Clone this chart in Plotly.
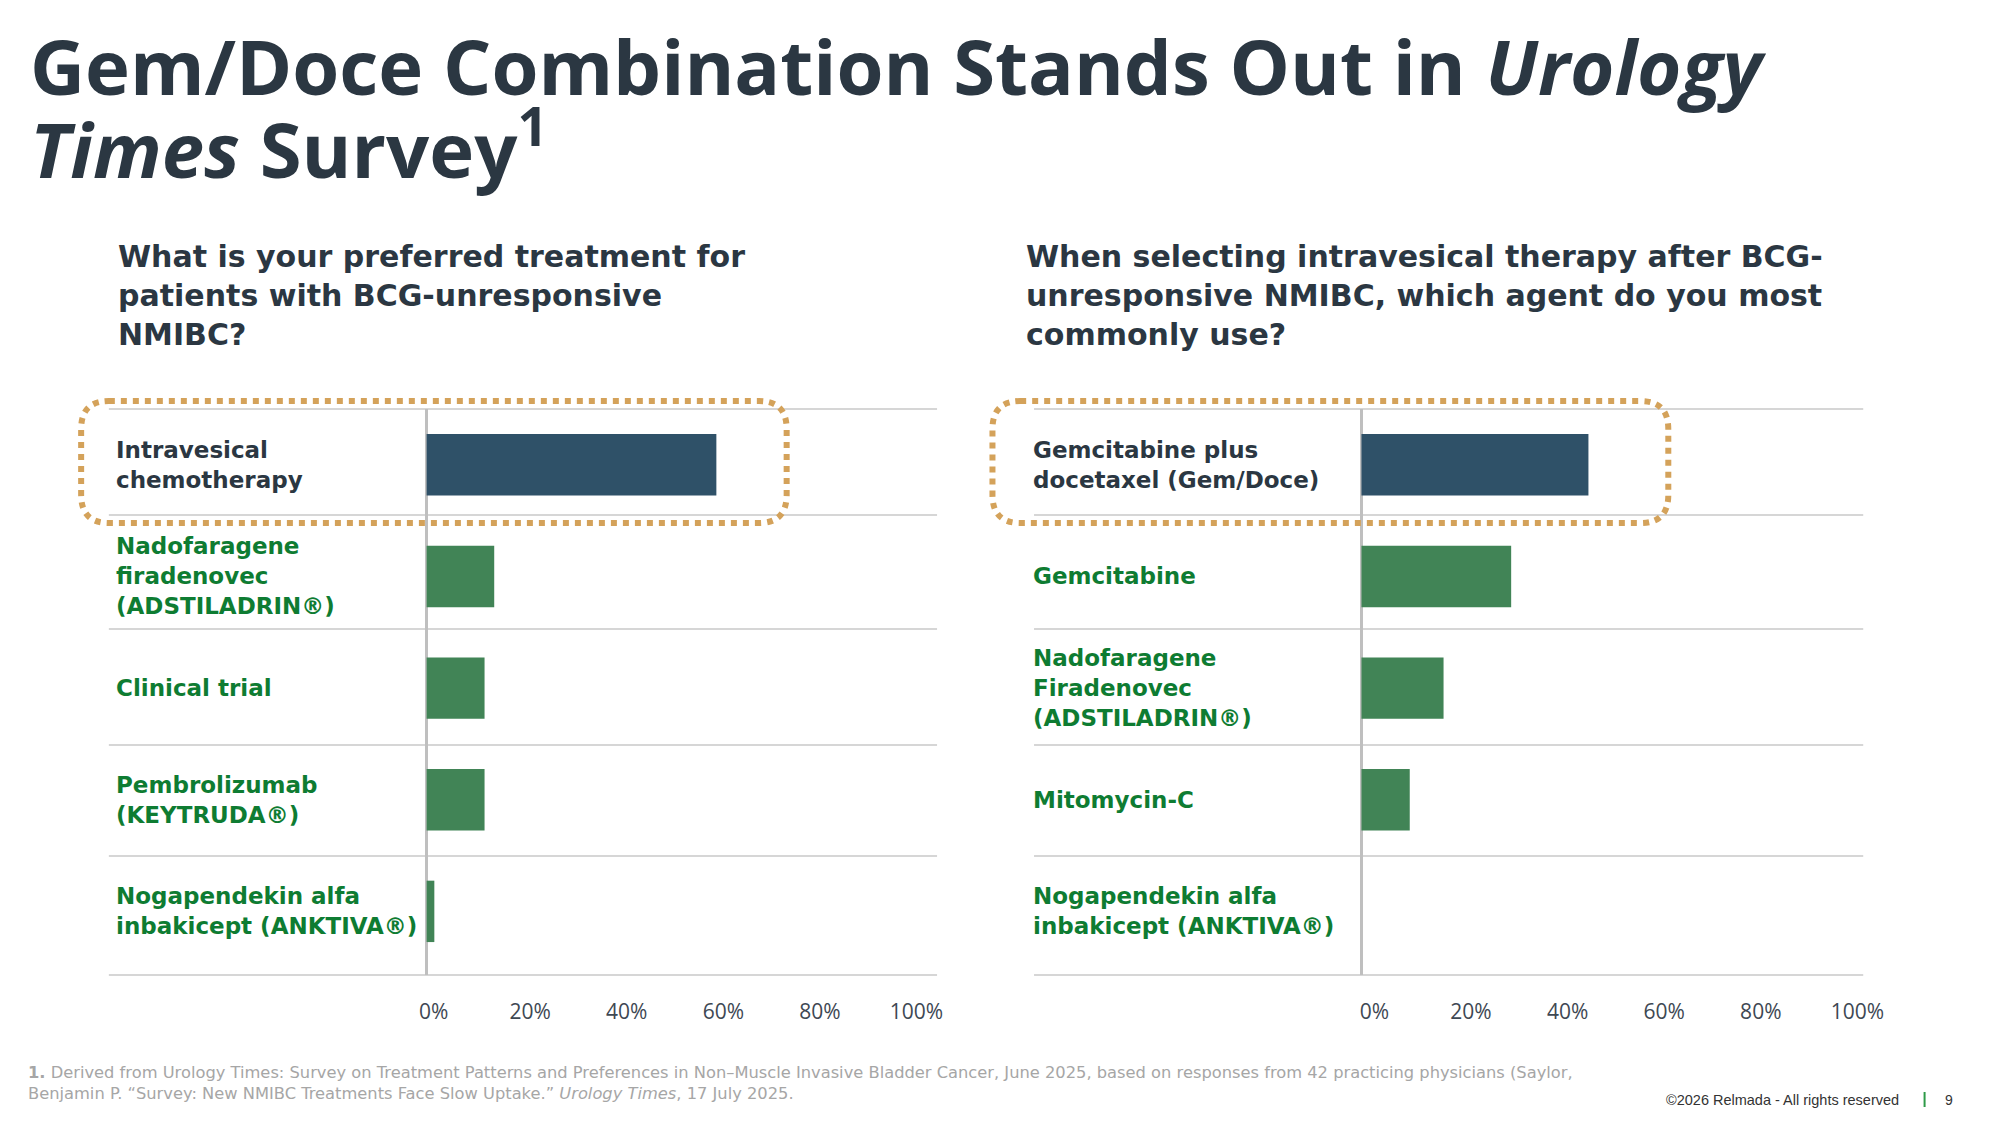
import plotly.graph_objects as go

W, H = 2000, 1125

# survey 1: preferred treatment for BCG-unresponsive NMIBC
left_categories = [
    "Intravesical<br>chemotherapy",
    "Nadofaragene<br>firadenovec<br>(ADSTILADRIN®)",
    "Clinical trial",
    "Pembrolizumab<br>(KEYTRUDA®)",
    "Nogapendekin alfa<br>inbakicept (ANKTIVA®)",
]
left_values = [60, 14, 12, 12, 1.6]

# survey 2: intravesical agent used most after BCG-unresponsive NMIBC
right_categories = [
    "Gemcitabine plus<br>docetaxel (Gem/Doce)",
    "Gemcitabine",
    "Nadofaragene<br>Firadenovec<br>(ADSTILADRIN®)",
    "Mitomycin-C",
    "Nogapendekin alfa<br>inbakicept (ANKTIVA®)",
]
right_values = [47, 31, 17, 10, 0]

tick_vals = [0, 20, 40, 60, 80, 100]
tick_text = ["0%", "20%", "40%", "60%", "80%", "100%"]

DARK = "#2B3742"
NAVY_BAR = "#2F5168"
GREEN_BAR = "#418456"
GREEN_TEXT = "#0E7C32"
TAN = "#D4A25A"
GRID = "#D6D6D6"
FONT = "Open Sans"
WIDE = "DejaVu Sans"

# row separator lines (pixel rows on the slide, same for both panels)
SEP_ROWS = [409, 515, 629, 745, 856, 975]


def px(x, y):
    """pixel position -> paper coords"""
    return x / W, 1 - y / H


def rounded_box(x0, y0, x1, y1, r):
    # rounded rectangle path in paper coords, built from pixel corners
    def p(x, y):
        a, b = px(x, y)
        return f"{a:.5f},{b:.5f}"
    return (
        f"M {p(x0 + r, y0)} L {p(x1 - r, y0)} Q {p(x1, y0)} {p(x1, y0 + r)} "
        f"L {p(x1, y1 - r)} Q {p(x1, y1)} {p(x1 - r, y1)} "
        f"L {p(x0 + r, y1)} Q {p(x0, y1)} {p(x0, y1 - r)} "
        f"L {p(x0, y0 + r)} Q {p(x0, y0)} {p(x0 + r, y0)} Z"
    )


fig = go.Figure()

panels = [
    # categories, values, x-axis id, y-axis id, x domain (px), x range, label x (px), tick shift
    (left_categories, left_values, "x", "y", (110, 947), [-65.8, 105.7], 115, 7),
    (right_categories, right_values, "x2", "y2", (1045, 1883), [-67.8, 103.9], 1042, 13),
]

y_dom = [1 - SEP_ROWS[-1] / H, 1 - SEP_ROWS[0] / H]

annotations = []
shapes = []

for i, (cats, vals, xa, ya, dom, rng, lab_x, tshift) in enumerate(panels):
    colors = [NAVY_BAR] + [GREEN_BAR] * (len(vals) - 1)
    fig.add_trace(go.Bar(
        x=vals, y=cats, orientation="h", xaxis=xa, yaxis=ya,
        marker=dict(color=colors, line=dict(width=0)),
        width=0.55, hoverinfo="x+y", showlegend=False,
    ))
    suffix = "" if i == 0 else "2"
    fig.update_layout({
        f"xaxis{suffix}": dict(
            domain=[dom[0] / W, dom[1] / W], range=rng, anchor=ya,
            tickvals=tick_vals, ticktext=tick_text, showgrid=False,
            zeroline=True, zerolinecolor="#BFBFBF", zerolinewidth=3,
            showline=False, ticks="", ticklabelstandoff=22, ticklabelshift=tshift,
            tickfont=dict(family=FONT, size=21, color="#3E4853"),
            fixedrange=True,
        ),
        f"yaxis{suffix}": dict(
            domain=y_dom, type="category", categoryorder="array",
            categoryarray=cats, range=[len(cats) - 0.43, -0.5], anchor=xa,
            showticklabels=False, showgrid=False, zeroline=False,
            fixedrange=True,
        ),
    })
    # row separators, running under the labels as well
    for r in SEP_ROWS:
        shapes.append(dict(
            type="line", xref=f"{xa} domain", yref="paper", x0=0, x1=1,
            y0=1 - r / H, y1=1 - r / H, line=dict(color=GRID, width=2), layer="below",
        ))
    for k, c in enumerate(cats):
        annotations.append(dict(
            xref="paper", yref=ya, x=lab_x / W, y=c, xanchor="left", yanchor="middle",
            text=f"<b>{c}</b>", showarrow=False, align="left",
            font=dict(family=WIDE, size=23, color=DARK if k == 0 else GREEN_TEXT),
        ))

# highlight boxes around the top rows
shapes.append(dict(type="path", xref="paper", yref="paper",
                   path=rounded_box(82, 401, 795, 523, 28),
                   line=dict(color=TAN, width=6, dash="6px,6px"), layer="above"))
shapes.append(dict(type="path", xref="paper", yref="paper",
                   path=rounded_box(1003, 401, 1686, 523, 28),
                   line=dict(color=TAN, width=6, dash="6px,6px"), layer="above"))

# title
title_lines = [
    (66, "<b>Gem/Doce Combination Stands Out in <i>Urology</i></b>"),
    (145, "<b><i>Times</i> Survey<sup>1</sup></b>"),
]
for y, t in title_lines:
    x, yy = px(28, y)
    annotations.append(dict(xref="paper", yref="paper", x=x, y=yy, xanchor="left",
                            yanchor="middle", text=t, showarrow=False,
                            font=dict(family=FONT, size=76, color=DARK)))

# panel questions
questions = [
    (117, "What is your preferred treatment for<br>patients with BCG-unresponsive<br>NMIBC?"),
    (1035, "When selecting intravesical therapy after BCG-<br>unresponsive NMIBC, which agent do you most<br>commonly use?"),
]
for qx, q in questions:
    x, yy = px(qx, 295)
    annotations.append(dict(xref="paper", yref="paper", x=x, y=yy, xanchor="left",
                            yanchor="middle", text=f"<b>{q}</b>", showarrow=False,
                            align="left", font=dict(family=WIDE, size=30, color=DARK)))

# footnote
footnote = ("<b>1.</b> Derived from Urology Times: Survey on Treatment Patterns and Preferences in "
            "Non–Muscle Invasive Bladder Cancer, June 2025, based on responses from 42 practicing "
            "physicians (Saylor,<br>Benjamin P. “Survey: New NMIBC Treatments Face Slow Uptake.” "
            "<i>Urology Times</i>, 17 July 2025.")
x, yy = px(26, 1083)
annotations.append(dict(xref="paper", yref="paper", x=x, y=yy, xanchor="left", yanchor="middle",
                        text=footnote, showarrow=False, align="left",
                        font=dict(family=WIDE, size=16.3, color="#A6A6A6")))

x, yy = px(1921, 1100)
annotations.append(dict(xref="paper", yref="paper", x=x, y=yy, xanchor="right", yanchor="middle",
                        text="©2026 Relmada - All rights reserved", showarrow=False,
                        font=dict(family="Liberation Sans", size=14.5, color="#333333")))
x, yy = px(1970, 1100)
annotations.append(dict(xref="paper", yref="paper", x=x, y=yy, xanchor="center", yanchor="middle",
                        text="9", showarrow=False,
                        font=dict(family="Liberation Sans", size=14, color="#333333")))
x0, y0 = px(1945, 1092)
x1, y1 = px(1945, 1107)
shapes.append(dict(type="line", xref="paper", yref="paper", x0=x0, x1=x1, y0=y0, y1=y1,
                   line=dict(color="#2E9A48", width=2)))

fig.update_layout(
    width=W, height=H, margin=dict(l=0, r=0, t=0, b=0),
    paper_bgcolor="white", plot_bgcolor="white",
    annotations=annotations, shapes=shapes,
    font=dict(family=FONT),
)

# drop the browser's default page margin and scrollbars so the figure fills the window
page_fix = ("document.body.style.margin = '0px';"
            "document.body.style.overflow = 'hidden';"
            "document.documentElement.style.overflow = 'hidden';")
fig.write_html("out.html", config={"displayModeBar": False}, post_script=page_fix)
